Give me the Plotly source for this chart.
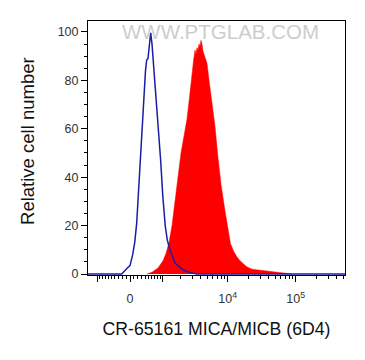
import numpy as np
import plotly.graph_objects as go

# ---- data (display channel units of a biexponential axis; 0 = zero intensity) ----
ctrl_channel = [-42, -8.3, -2.7, 0, 2.7, 4.7, 6.7, 8.7, 10.7, 12.5, 14, 15.5, 16.7, 18, 19.5,
                20.7, 22, 23.3, 25, 28.3, 30.7, 32.7, 35.2, 37.3, 40, 45, 53, 60, 67, 215]
ctrl_count = [0, 0, 2.5, 3.5, 8, 13, 21, 36, 53, 66, 76, 84, 88.4, 89, 95,
              99.6, 95, 88, 78, 59, 46.7, 32.8, 20, 14, 9.9, 4.5, 1.7, 0.6, 0, 0]

stain_channel = [16.7, 22, 28, 33, 36, 39, 42, 45, 48, 51, 54, 57, 59.5, 61.5, 63.5, 65, 66,
                 67, 68, 69, 70, 71, 72, 73, 75, 77, 79, 82, 85, 87.5, 91, 95, 98, 100.5,
                 103.5, 107, 110, 116.7, 122, 128, 135, 142, 152, 162]
stain_count = [0, 0.7, 2.5, 5.5, 8.5, 13, 20, 30, 40, 50, 57, 64, 73, 82, 88, 92.5, 91,
               93.5, 92.5, 95, 94, 96.5, 95, 92, 89, 87, 80, 71, 61, 50, 37, 26, 19, 12.5,
               9.5, 7, 5.5, 3, 2, 1.7, 1.2, 0.8, 0.3, 0]

labeled_ticks = [0, 1e4, 1e5]
labeled_text = ["0", "10<sup>4</sup>", "10<sup>5</sup>"]
unlabeled_major_ticks = [-1e3, 1e3]
minor_ticks = ([-k * 100 for k in range(1, 10)] + [k * 100 for k in range(1, 10)] +
               [k * 1e3 for k in range(2, 10)] + [k * 1e4 for k in range(2, 10)] +
               [k * 1e5 for k in range(2, 6)])

x_title = "CR-65161 MICA/MICB (6D4)"
y_title = "Relative cell number"
watermark = "WWW.PTGLAB.COM"


def biex(v):
    """Biexponential-like display transform (intensity -> display channel)."""
    return 29.6 * np.arcsinh(np.asarray(v, dtype=float) / 740.0)


font_family = "Liberation Sans, Arial, sans-serif"
X_RANGE = [-42, 215]

fig = go.Figure()
fig.add_trace(go.Scatter(
    x=stain_channel, y=stain_count, mode="lines", fill="tozeroy",
    line=dict(color="#ff0000", width=0.5), fillcolor="#ff0000", hoverinfo="skip",
    showlegend=False))
fig.add_trace(go.Scatter(
    x=ctrl_channel, y=ctrl_count, mode="lines",
    line=dict(color="#1c1ca6", width=1.5), hoverinfo="skip", showlegend=False))
# invisible companion trace so the overlay axis (unlabeled major ticks) is drawn
fig.add_trace(go.Scatter(
    x=ctrl_channel, y=ctrl_count, mode="lines", xaxis="x2",
    line=dict(color="rgba(0,0,0,0)", width=0), hoverinfo="skip", showlegend=False))

fig.add_annotation(text=watermark, x=0.515, y=0.9606, xref="paper", yref="paper",
                   xanchor="center", yanchor="middle",
                   showarrow=False, font=dict(family=font_family, size=20.5, color="#cdcdcd"))
fig.add_annotation(text=y_title, textangle=-90, x=-0.2335, y=0.5276,
                   xref="paper", yref="paper", xanchor="center", yanchor="middle",
                   showarrow=False, font=dict(family=font_family, size=18.5, color="#111111"))

fig.update_layout(
    width=357, height=352,
    margin=dict(l=80, r=20, t=13, b=85),
    paper_bgcolor="white", plot_bgcolor="white",
    font=dict(family=font_family, color="#333333", size=12),
    xaxis=dict(
        range=X_RANGE, showgrid=False, zeroline=False,
        showline=True, linecolor="black", linewidth=1, mirror=True,
        tickmode="array", tickvals=biex(labeled_ticks).tolist(), ticktext=labeled_text,
        ticks="outside", ticklen=6, tickcolor="black", tickwidth=1,
        ticklabelstandoff=6,
        tickfont=dict(size=12.5, color="#333333"),
        minor=dict(tickvals=biex(minor_ticks).tolist(), ticks="outside", ticklen=3,
                   tickcolor="black", tickwidth=1, showgrid=False),
        title=dict(text=x_title, font=dict(size=17.7, color="#111111"), standoff=17),
    ),
    xaxis2=dict(
        range=X_RANGE, overlaying="x", anchor="y", side="bottom",
        showgrid=False, zeroline=False, showline=False, showticklabels=False,
        tickmode="array", tickvals=biex(unlabeled_major_ticks).tolist(),
        ticks="outside", ticklen=6, tickcolor="black", tickwidth=1,
    ),
    yaxis=dict(
        range=[-0.4, 104.5], showgrid=False, zeroline=False,
        showline=True, linecolor="black", linewidth=1, mirror=True,
        tickmode="linear", tick0=0, dtick=20,
        ticks="outside", ticklen=6, tickcolor="black", tickwidth=1,
        tickfont=dict(size=12.5, color="#333333"),
        minor=dict(dtick=5, ticks="outside", ticklen=3, tickcolor="black",
                   tickwidth=1, showgrid=False),
    ),
)

fig.write_html("out.html")
